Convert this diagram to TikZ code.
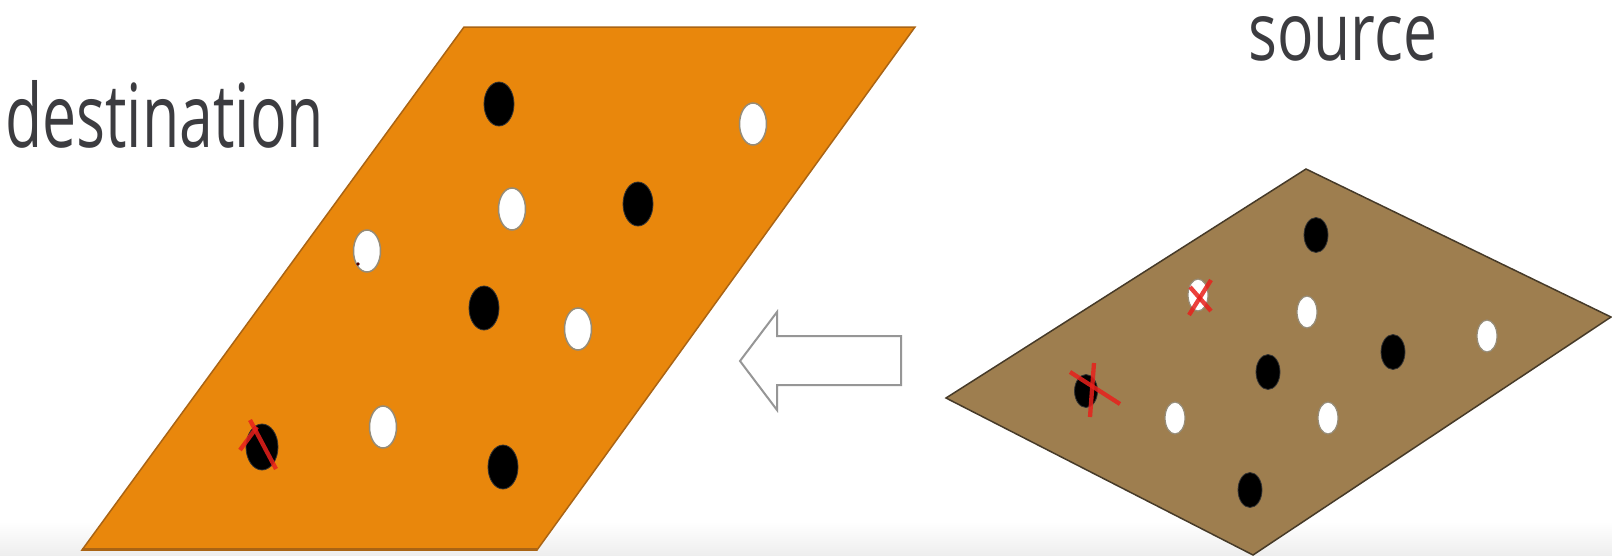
\documentclass[tikz,border=0pt]{standalone}
\usepackage{fontspec}
\setmainfont{Open Sans}
\usepackage{graphicx}
\usetikzlibrary{shapes.geometric}
\definecolor{plateorange}{RGB}{233,135,12}
\definecolor{plateorangeedge}{RGB}{170,100,20}
\definecolor{platebrown}{RGB}{158,126,79}
\definecolor{platebrownedge}{RGB}{70,58,40}
\definecolor{labelgray}{RGB}{60,60,64}
\definecolor{arrowgray}{RGB}{150,150,150}
\definecolor{crossred}{RGB}{232,32,28}
\definecolor{whiteedge}{RGB}{150,140,120}
\definecolor{floorgray}{RGB}{238,238,238}
\tikzset{
  bigblack/.style={ellipse, fill=black, draw=black!80, line width=0.8pt, minimum width=30pt, minimum height=44pt, inner sep=0pt},
  bigwhite/.style={ellipse, fill=white, draw=whiteedge, line width=1.5pt, minimum width=27pt, minimum height=42pt, inner sep=0pt},
  smallblack/.style={ellipse, fill=black, draw=black!80, line width=0.8pt, minimum width=24pt, minimum height=35pt, inner sep=0pt},
  smallwhite/.style={ellipse, fill=white, draw=whiteedge, line width=1.2pt, minimum width=20pt, minimum height=32pt, inner sep=0pt},
  redcross/.style={draw=crossred, line width=4.3pt, opacity=0.85},
  labeltext/.style={anchor=base west, inner sep=0pt, text=labelgray}
}
\begin{document}
\begin{tikzpicture}[x=1pt,y=-1pt]
\useasboundingbox (0,0) rectangle (1612,555);
\fill[white] (0,0) rectangle (1612,555);
\shade[top color=white, bottom color=floorgray] (0,522) rectangle (1612,555);
% destination plate
\filldraw[fill=plateorange, draw=plateorangeedge, line width=1.5pt]
  (464,27) -- (915,27) -- (537,550) -- (82,550) -- cycle;
\draw[draw=plateorangeedge, line width=2.5pt] (82,549) -- (537,549);
% source plate
\filldraw[fill=platebrown, draw=platebrownedge, line width=1.5pt]
  (1306,169) -- (1611,317) -- (1253,555) -- (946,398) -- cycle;
% labels
\node[labeltext] (dest) at (5,147) {\resizebox{319pt}{67pt}{destination}};
\node[labeltext] (src) at (1248,60) {\resizebox{189pt}{44pt}{source}};
% arrow
\draw[draw=arrowgray, fill=white, line width=2pt, line join=miter]
  (740,361) -- (777,312) -- (777,336) -- (901,336) -- (901,385) -- (777,385) -- (777,410) -- cycle;
% destination dots
\node[bigblack] (d1) at (499,104) {};
\node[bigwhite] (d2) at (753,124) {};
\node[bigwhite] (d3) at (512,209) {};
\node[bigblack] (d4) at (638,204) {};
\node[bigwhite] (d5) at (367,251) {};
\node[bigblack] (d6) at (484,308) {};
\node[bigwhite] (d7) at (578,329) {};
\node[bigblack, minimum width=32pt, minimum height=46pt] (d8) at (262,447) {};
\node[bigwhite] (d9) at (383,427) {};
\node[bigblack] (d10) at (503,467) {};
\fill[black!70!red] (358,264) circle (1.8);
\draw[redcross] (250,420) -- (276,469);
\draw[redcross] (240,450) -- (257,427);
% source dots
\node[smallblack] (s1) at (1316,235) {};
\node[smallwhite] (s2) at (1198,295) {};
\node[smallwhite] (s3) at (1307,312) {};
\node[smallblack] (s4) at (1393,352) {};
\node[smallwhite] (s5) at (1487,336) {};
\node[smallblack] (s6) at (1268,372) {};
\node[smallblack, minimum width=23pt, minimum height=33pt] (s7) at (1086,391) {};
\node[smallwhite] (s8) at (1175,418) {};
\node[smallwhite] (s9) at (1328,418) {};
\node[smallblack] (s10) at (1250,490) {};
\draw[redcross] (1211,280) -- (1189,315);
\draw[redcross] (1190,287) -- (1211,311);
\draw[redcross] (1070,372) -- (1120,404);
\draw[redcross] (1094,363) -- (1090,417);
\end{tikzpicture}
\end{document}
